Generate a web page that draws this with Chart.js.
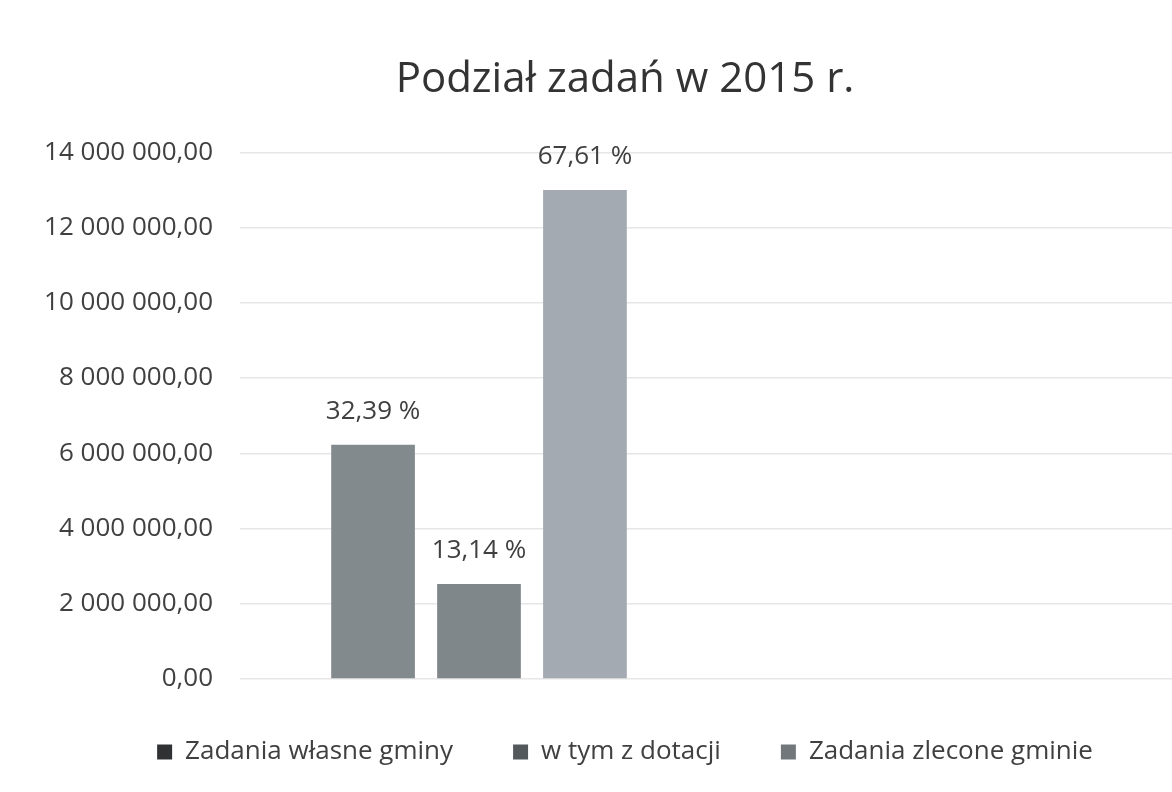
<!DOCTYPE html>
<html>
<head>
<meta charset="utf-8">
<script src="https://cdn.jsdelivr.net/npm/chart.js@4"></script>
<style>
  html, body { margin: 0; padding: 0; background: #ffffff; overflow: hidden; }
  #wrap { position: absolute; left: 0; top: 0; width: 1254px; height: 792px; }
</style>
</head>
<body>
<div id="wrap"><canvas id="c" width="1254" height="792"></canvas></div>
<script>
// ---- data ----
const categories = ["", ""];
const seriesNames = ["Zadania własne gminy", "w tym z dotacji", "Zadania zlecone gminie"];
const seriesValues = [6230000, 2527000, 13000000];
const percentLabels = [32.39, 13.14, 67.61];
const yTicks = [0, 2000000, 4000000, 6000000, 8000000, 10000000, 12000000, 14000000];
const titleText = "Podział zadań w 2015 r.";

const barColors = ["#838a8e", "#80878b", "#a4aab1"];
const legendColors = ["#2f3133", "#53585b", "#72777b"];
const FONT = "'Open Sans', 'Noto Sans', sans-serif";

function fmtPL(v) {
  const neg = v < 0;
  v = Math.abs(v);
  const fixed = v.toFixed(2);
  let [intPart, dec] = fixed.split(".");
  intPart = intPart.replace(/\B(?=(\d{3})+(?!\d))/g, " ");
  return (neg ? "-" : "") + intPart + "," + dec;
}
function fmtPct(p) {
  return p.toFixed(2).replace(".", ",") + " %";
}

const datasets = seriesNames.map((name, i) => ({
  label: name,
  data: [seriesValues[i], null],
  backgroundColor: barColors[i],
  borderWidth: 0,
  categoryPercentage: 0.665,
  barPercentage: 0.79
}));

const pctPlugin = {
  id: "pctLabels",
  afterDatasetsDraw(chart) {
    const ctx = chart.ctx;
    ctx.save();
    ctx.font = "26px " + FONT;
    ctx.fillStyle = "#404040";
    ctx.textAlign = "center";
    ctx.textBaseline = "middle";
    chart.data.datasets.forEach((ds, i) => {
      const meta = chart.getDatasetMeta(i);
      const el = meta.data[0];
      if (!el) return;
      ctx.fillText(fmtPct(percentLabels[i]), el.x, el.y - 33);
    });
    ctx.restore();
  }
};

// let the y-axis labels extend into the left padding (avoid clipping)
const unclipPlugin = {
  id: "unclipY",
  afterLayout(chart) {
    const y = chart.scales.y;
    if (y) y.left = 0;
  }
};

new Chart(document.getElementById("c"), {
  type: "bar",
  data: { labels: categories, datasets: datasets },
  options: {
    responsive: false,
    animation: false,
    layout: { padding: { left: 54, right: 58, top: 0, bottom: 17 } },
    plugins: {
      title: {
        display: true,
        text: titleText,
        color: "#333333",
        font: { family: FONT, size: 42, weight: "normal" },
        padding: { top: 55, bottom: 47 }
      },
      legend: {
        display: true,
        position: "bottom",
        labels: {
          color: "#404040",
          font: { family: FONT, size: 26 },
          boxWidth: 15,
          boxHeight: 15,
          padding: 60,
          generateLabels(chart) {
            return chart.data.datasets.map((ds, i) => ({
              text: ds.label,
              fillStyle: legendColors[i],
              strokeStyle: legendColors[i],
              lineWidth: 0,
              hidden: false,
              datasetIndex: i,
              fontColor: "#404040"
            }));
          }
        }
      },
      tooltip: { enabled: false }
    },
    scales: {
      x: {
        display: false,
        grid: { display: false }
      },
      y: {
        min: 0,
        max: 14000000,
        afterFit(scale) { scale.width = 186; },
        afterBuildTicks(scale) { scale.ticks = yTicks.map(v => ({ value: v })); },
        border: { display: false },
        grid: { color: "#e6e6e6", lineWidth: 1.5, drawTicks: false },
        ticks: {
          padding: 27,
          color: "#404040",
          font: { family: FONT, size: 26 },
          callback: (v) => fmtPL(v)
        }
      }
    }
  },
  plugins: [pctPlugin, unclipPlugin]
});
</script>
</body>
</html>
